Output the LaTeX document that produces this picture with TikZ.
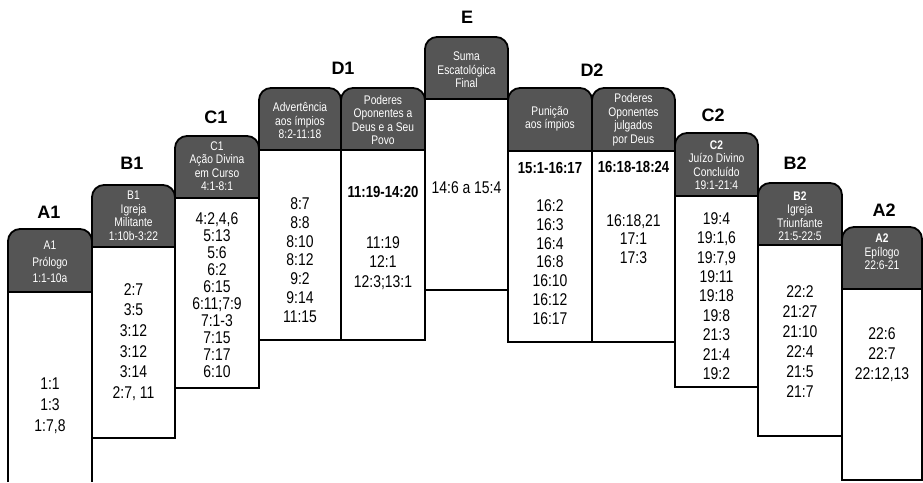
\documentclass[tikz,border=0pt]{standalone}
\usepackage{fontspec}
\setmainfont{Liberation Sans}[FakeStretch=0.82]
\newfontfamily\labelfont{Liberation Sans}
\definecolor{headgray}{RGB}{85,85,85}

\begin{document}
\begin{tikzpicture}[x=1pt,y=-1pt]
\tikzstyle{head} = [draw=black, line width=1.8pt, fill=headgray, rounded corners=12pt]
\tikzstyle{body} = [draw=black, line width=1.8pt, fill=white]
\tikzstyle{title} = [font=\labelfont\bfseries\fontsize{18}{18}\selectfont]
\tikzstyle{htext} = [text=white, align=center, inner sep=0pt,
font=\fontsize{12.5}{13.5}\selectfont]
\tikzstyle{refs} = [align=center, inner sep=0pt, font=\fontsize{17}{20}\selectfont]
\tikzstyle{key} = [inner sep=0pt, font=\bfseries\fontsize{16}{16}\selectfont]

\useasboundingbox (0,0) rectangle (923,482);

% columns, left to right
\draw[head] (8,229) rectangle (92,312);
\draw[body] (8,482) -- (8,292) -- (92,292) -- (92,482);
\draw[head] (92,185) rectangle (175,267);
\draw[body] (92,247) rectangle (175,438);
\draw[head] (175,136) rectangle (259,218);
\draw[body] (175,198) rectangle (259,388);
\draw[head] (259,88) rectangle (341,170);
\draw[body] (259,150) rectangle (341,340);
\draw[head] (341,88) rectangle (425,170);
\draw[body] (341,150) rectangle (425,340);
\draw[head] (425,37) rectangle (508,119);
\draw[body] (425,99) rectangle (508,290);
\draw[head] (508,88) rectangle (592,171);
\draw[body] (508,151) rectangle (592,342);
\draw[head] (592,88) rectangle (675,171);
\draw[body] (592,151) rectangle (675,342);
\draw[head] (675,133) rectangle (758,216);
\draw[body] (675,196) rectangle (758,387);
\draw[head] (758,183) rectangle (842,265);
\draw[body] (758,245) rectangle (842,436);
\draw[head] (842,227) rectangle (922,309);
\draw[body] (842,289) rectangle (922,480);

% titles
\node[title] (tA1) at (49,212) {A1};
\node[title] (tB1) at (132,163) {B1};
\node[title] (tC1) at (216,117) {C1};
\node[title] (tD1) at (343,68) {D1};
\node[title] (tE) at (467,17) {E};
\node[title] (tD2) at (592,70) {D2};
\node[title] (tC2) at (713,115) {C2};
\node[title] (tB2) at (795,163) {B2};
\node[title] (tA2) at (884,210) {A2};

% headers
\node[htext] (hA1) at (50,262) {A1\\[3pt]Prólogo\\[3pt]1:1-10a};
\node[htext] (hB1) at (133.5,216) {B1\\Igreja\\Militante\\1:10b-3:22};
\node[htext] (hC1) at (217,166) {C1\\Ação Divina\\em Curso\\4:1-8:1};
\node[htext] (hD1a) at (300,121) {Advertência\\aos ímpios\\8:2-11:18};
\node[htext] (hD1b) at (383,120) {Poderes\\Oponentes a\\Deus e a Seu\\Povo};
\node[htext] (hE) at (466.5,70) {Suma\\Escatológica\\Final};
\node[htext] (hD2a) at (550,119) {Punição\\aos ímpios};
\node[htext] (hD2b) at (633.5,120) {Poderes\\Oponentes\\julgados\\por Deus};
\node[htext] (hC2) at (716.5,165) {\textbf{C2}\\Juízo Divino\\Concluído\\19:1-21:4};
\node[htext] (hB2) at (800,216) {\textbf{B2}\\Igreja\\Triunfante\\21:5-22:5};
\node[htext] (hA2) at (882,252) {\textbf{A2}\\Epílogo\\22:6-21};

% references
\node[refs, font=\fontsize{17}{21}\selectfont] (rA1) at (50,406) {1:1\\1:3\\1:7,8};
\node[refs, font=\fontsize{17}{20.6}\selectfont] (rB1) at (133.5,342)
  {2:7\\3:5\\3:12\\3:12\\3:14\\2:7, 11};
\node[refs, font=\fontsize{17}{17}\selectfont] (rC1) at (217,295)
  {4:2,4,6\\5:13\\5:6\\6:2\\6:15\\6:11;7:9\\7:1-3\\7:15\\7:17\\6:10};
\node[refs, font=\fontsize{17}{18.8}\selectfont] (rD1a) at (300,260)
  {8:7\\8:8\\8:10\\8:12\\9:2\\9:14\\11:15};
\node[key] (kD1b) at (383,192) {11:19-14:20};
\node[refs, font=\fontsize{17}{19.5}\selectfont] (rD1b) at (383,263)
  {11:19\\12:1\\12:3;13:1};
\node[refs] (rE) at (466.5,188) {14:6 a 15:4};
\node[key] (kD2a) at (550,168) {15:1-16:17};
\node[refs, font=\fontsize{17}{18.8}\selectfont] (rD2a) at (550,262)
  {16:2\\16:3\\16:4\\16:8\\16:10\\16:12\\16:17};
\node[key] (kD2b) at (633.5,167) {16:18-18:24};
\node[refs, font=\fontsize{17}{18.5}\selectfont] (rD2b) at (633.5,239)
  {16:18,21\\17:1\\17:3};
\node[refs, font=\fontsize{17}{19.4}\selectfont] (rC2) at (716.5,296)
  {19:4\\19:1,6\\19:7,9\\19:11\\19:18\\19:8\\21:3\\21:4\\19:2};
\node[refs] (rB2) at (800,342) {22:2\\21:27\\21:10\\22:4\\21:5\\21:7};
\node[refs] (rA2) at (882,355) {22:6\\22:7\\22:12,13};

\end{tikzpicture}
\end{document}
